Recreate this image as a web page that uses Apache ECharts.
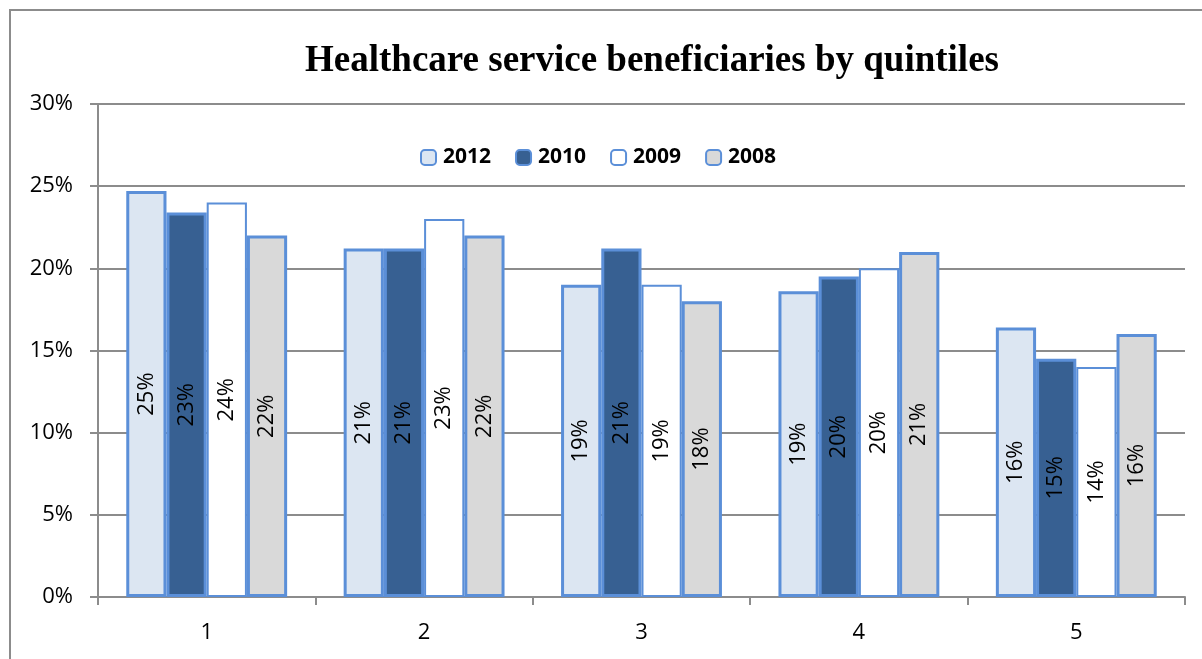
<!DOCTYPE html>
<html>
<head>
<meta charset="utf-8">
<script src="https://cdn.jsdelivr.net/npm/echarts@6/dist/echarts.min.js"></script>
<style>
  html, body { margin: 0; padding: 0; background: #fff; }
  #chart { width: 1202px; height: 659px; }
</style>
</head>
<body>
<div id="chart"></div>
<script>
// Share of healthcare service beneficiaries (%) per income quintile
const quintiles = ['1', '2', '3', '4', '5'];
const years = ['2012', '2010', '2009', '2008'];
const values2012 = [24.7, 21.2, 19.0, 18.6, 16.4];
const values2010 = [23.4, 21.2, 21.2, 19.5, 14.5];
const values2009 = [24.0, 23.0, 19.0, 20.0, 14.0];
const values2008 = [22.0, 22.0, 18.0, 21.0, 16.0];

const seriesData = [values2012, values2010, values2009, values2008];
const fills = ['#dce6f2', '#376092', '#ffffff', '#d9d9d9'];
const edge = '#5b8fd8';
const font = '"Open Sans", "Liberation Sans", sans-serif';

const chart = echarts.init(document.getElementById('chart'));

chart.setOption({
  animation: false,
  backgroundColor: '#fff',
  graphic: [{
    type: 'rect',
    shape: { x: 10, y: 10, width: 1260, height: 720 },
    style: { fill: 'none', stroke: '#8c8c8c', lineWidth: 2 },
    silent: true,
    z: 0
  }],
  title: {
    text: 'Healthcare service beneficiaries by quintiles',
    left: 300,
    top: 38,
    textStyle: {
      fontFamily: '"Liberation Serif", "DejaVu Serif", serif',
      fontWeight: 'bold',
      fontSize: 37,
      color: '#000'
    }
  },
  legend: {
    data: years,
    top: 142,
    left: 415,
    itemWidth: 15,
    itemHeight: 15,
    itemGap: 24,
    textStyle: {
      fontFamily: font,
      fontWeight: 'bold',
      fontSize: 21,
      color: '#000',
      padding: [0, 0, 0, 2]
    }
  },
  grid: { left: 98, right: 17, top: 104, bottom: 62 },
  xAxis: {
    type: 'category',
    data: quintiles,
    axisLine: { lineStyle: { color: '#8c8c8c', width: 2 } },
    axisTick: { show: true, length: 8, lineStyle: { color: '#8c8c8c', width: 2 } },
    axisLabel: { fontFamily: font, fontSize: 22, color: '#000', margin: 25 }
  },
  yAxis: {
    type: 'value',
    min: 0,
    max: 30,
    interval: 5,
    axisLine: { show: true, lineStyle: { color: '#8c8c8c', width: 2 } },
    axisTick: { show: true, length: 8, lineStyle: { color: '#8c8c8c', width: 2 } },
    splitLine: { lineStyle: { color: '#8c8c8c', width: 2 } },
    axisLabel: {
      fontFamily: font, fontSize: 22, color: '#000', margin: 25,
      formatter: v => v + '%'
    }
  },
  series: years.map((y, i) => ({
    name: y,
    type: 'bar',
    data: seriesData[i],
    barGap: '0%',
    barCategoryGap: '26%',
    itemStyle: {
      color: fills[i],
      borderColor: edge,
      borderWidth: i === 2 ? 2 : 3
    },
    label: {
      show: true,
      position: 'inside',
      rotate: 90,
      fontFamily: font,
      fontSize: 22,
      color: '#000',
      formatter: p => Math.round(p.value) + '%'
    }
  }))
});
</script>
</body>
</html>
